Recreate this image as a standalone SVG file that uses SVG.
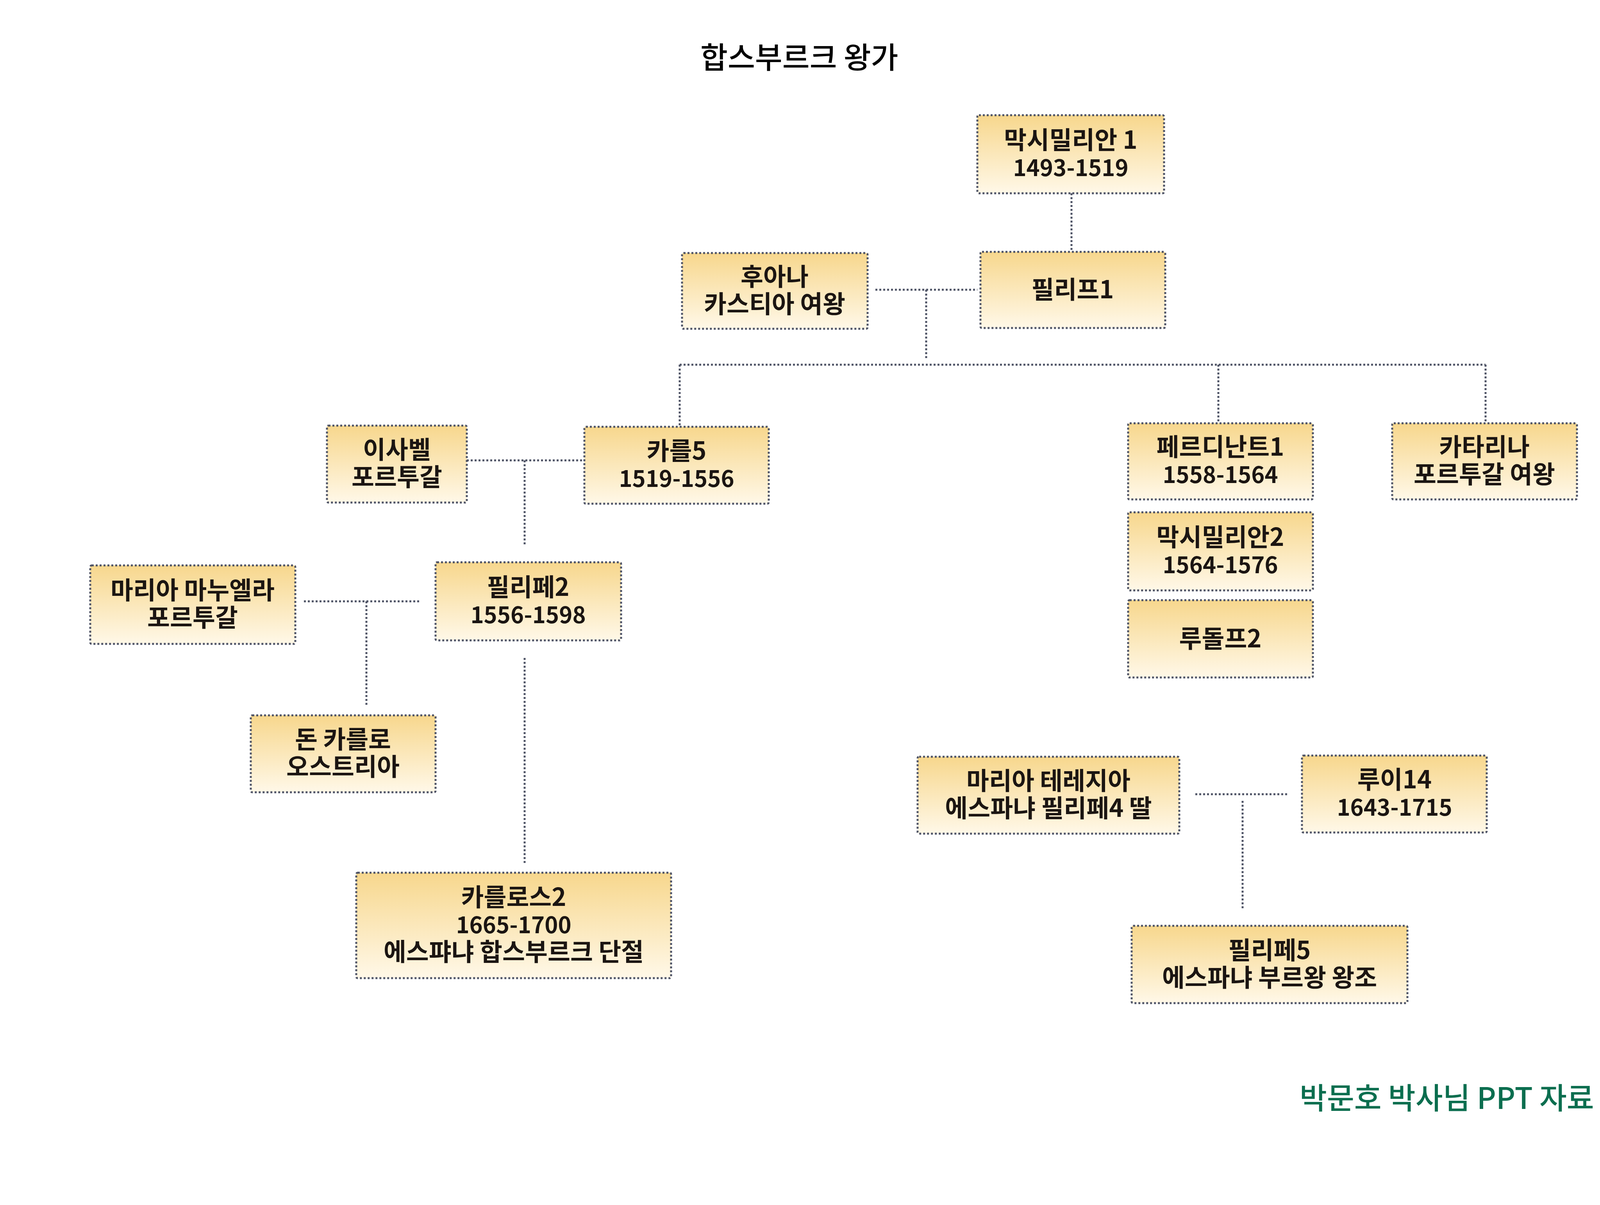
<svg xmlns="http://www.w3.org/2000/svg" width="4364" height="3086" viewBox="0 0 4364 3086">
<style>
.box{fill:url(#g);stroke:#4f5466;stroke-width:5;stroke-dasharray:5 5}
.t{font-family:"Noto Sans CJK KR","Noto Sans",sans-serif;font-weight:700;font-size:63px;fill:#1b1512;text-anchor:middle}
.d{font-size:58px}
.c{fill:none;stroke:#4f5466;stroke-width:5;stroke-dasharray:5 5}
.title{font-family:"Noto Sans CJK KR","Noto Sans",sans-serif;font-weight:500;font-size:76px;fill:#000}
.foot{font-family:"Noto Sans CJK KR","Noto Sans",sans-serif;font-weight:500;font-size:76px;fill:#0b6e4f}
</style>
<defs>
<linearGradient id="g" x1="0" y1="0" x2="0" y2="1">
<stop offset="0" stop-color="#f7d78d"/>
<stop offset="1" stop-color="#fff8e8"/>
</linearGradient>
</defs>
<rect width="4364" height="3086" fill="#fff"/>
<text class="title" x="1793" y="175">합스부르크 왕가</text>
<g id="connectors">
<path class="c" d="M2743 495V645"/>
<path class="c" d="M2241 742H2502"/>
<path class="c" d="M2371 742V917"/>
<path class="c" d="M1740 934H3803"/>
<path class="c" d="M1740 934V1093"/>
<path class="c" d="M3119 934V1084"/>
<path class="c" d="M3803 934V1084"/>
<path class="c" d="M1195 1179H1496"/>
<path class="c" d="M1343 1179V1396"/>
<path class="c" d="M778 1540H1073"/>
<path class="c" d="M938 1540V1810"/>
<path class="c" d="M1343 1685V2210"/>
<path class="c" d="M3060 2034H3300"/>
<path class="c" d="M3181 2051V2326"/>
</g>
<g id="n1"><rect class="box" x="2502" y="295" width="478" height="200" rx="4"/><text class="t"><tspan x="2741" y="381">막시밀리안 1</tspan><tspan class="d" x="2741" y="451">1493-1519</tspan></text></g>
<g id="n2"><rect class="box" x="2510" y="645" width="473" height="195" rx="4"/><text class="t" x="2746" y="764">필리프1</text></g>
<g id="n3"><rect class="box" x="1746" y="648" width="475" height="194" rx="4"/><text class="t"><tspan x="1983" y="731">후아나</tspan><tspan x="1983" y="801">카스티아 여왕</tspan></text></g>
<g id="n4"><rect class="box" x="1496" y="1093" width="472" height="197" rx="4"/><text class="t"><tspan x="1732" y="1177">카를5</tspan><tspan class="d" x="1732" y="1247">1519-1556</tspan></text></g>
<g id="n5"><rect class="box" x="837" y="1090" width="358" height="197" rx="4"/><text class="t"><tspan x="1016" y="1174">이사벨</tspan><tspan x="1016" y="1244">포르투갈</tspan></text></g>
<g id="n6"><rect class="box" x="2888" y="1084" width="473" height="195" rx="4"/><text class="t"><tspan x="3124" y="1167">페르디난트1</tspan><tspan class="d" x="3124" y="1237">1558-1564</tspan></text></g>
<g id="n7"><rect class="box" x="3564" y="1084" width="473" height="195" rx="4"/><text class="t"><tspan x="3800" y="1167">카타리나</tspan><tspan x="3800" y="1237">포르투갈 여왕</tspan></text></g>
<g id="n8"><rect class="box" x="2888" y="1312" width="473" height="200" rx="4"/><text class="t"><tspan x="3124" y="1398">막시밀리안2</tspan><tspan class="d" x="3124" y="1468">1564-1576</tspan></text></g>
<g id="n9"><rect class="box" x="2888" y="1537" width="473" height="198" rx="4"/><text class="t" x="3124" y="1658">루돌프2</text></g>
<g id="n10"><rect class="box" x="231" y="1448" width="525" height="201" rx="4"/><text class="t"><tspan x="493" y="1534">마리아 마누엘라</tspan><tspan x="493" y="1604">포르투갈</tspan></text></g>
<g id="n11"><rect class="box" x="1115" y="1440" width="475" height="200" rx="4"/><text class="t"><tspan x="1352" y="1526">필리페2</tspan><tspan class="d" x="1352" y="1596">1556-1598</tspan></text></g>
<g id="n12"><rect class="box" x="642" y="1832" width="473" height="197" rx="4"/><text class="t"><tspan x="878" y="1916">돈 카를로</tspan><tspan x="878" y="1986">오스트리아</tspan></text></g>
<g id="n13"><rect class="box" x="912" y="2235" width="806" height="270" rx="4"/><text class="t"><tspan x="1315" y="2320">카를로스2</tspan><tspan class="d" x="1315" y="2390">1665-1700</tspan><tspan x="1315" y="2460">에스퍄냐 합스부르크 단절</tspan></text></g>
<g id="n14"><rect class="box" x="2349" y="1938" width="670" height="197" rx="4"/><text class="t"><tspan x="2684" y="2022">마리아 테레지아</tspan><tspan x="2684" y="2092">에스파냐 필리페4 딸</tspan></text></g>
<g id="n15"><rect class="box" x="3333" y="1935" width="473" height="197" rx="4"/><text class="t"><tspan x="3570" y="2019">루이14</tspan><tspan class="d" x="3570" y="2089">1643-1715</tspan></text></g>
<g id="n16"><rect class="box" x="2897" y="2371" width="706" height="198" rx="4"/><text class="t"><tspan x="3250" y="2456">필리페5</tspan><tspan x="3250" y="2526">에스파냐 부르왕 왕조</tspan></text></g>
<text class="foot" x="3327" y="2840">박문호 박사님 PPT 자료</text>
</svg>
